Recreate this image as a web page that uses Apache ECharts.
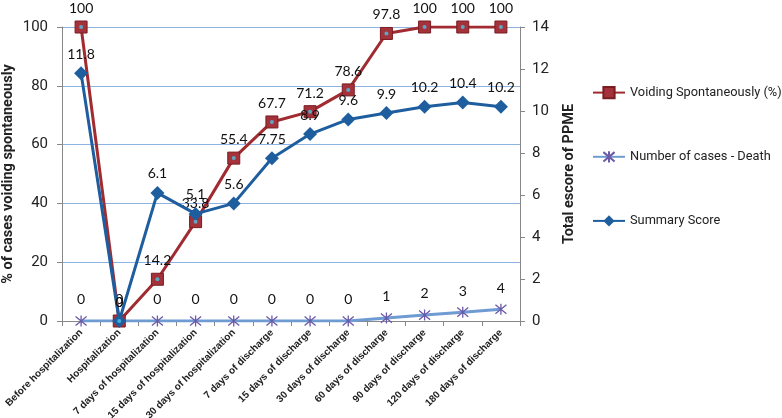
<!DOCTYPE html>
<html><head><meta charset="utf-8">
<script src="https://cdn.jsdelivr.net/npm/echarts@6/dist/echarts.min.js"></script>
<style>html,body{margin:0;padding:0;background:#fff}#c{width:782px;height:418px}</style>
</head><body><div id="c"></div>
<script>
const categories = ["Before hospitalization","Hospitalization","7 days of hospitalization","15 days of hospitalization","30 days of hospitalization","7 days of discharge","15 days of discharge","30 days of discharge","60 days of discharge","90 days of discharge","120 days of discharge","180 days of discharge"];
const voiding = [100, 0, 14.2, 33.8, 55.4, 67.7, 71.2, 78.6, 97.8, 100, 100, 100];
const deaths = [0, 0, 0, 0, 0, 0, 0, 0, 1, 2, 3, 4];
const summary = [11.8, 0, 6.1, 5.1, 5.6, 7.75, 8.9, 9.6, 9.9, 10.2, 10.4, 10.2];
const leftTicks = [0, 20, 40, 60, 80, 100];
const rightTicks = [0, 2, 4, 6, 8, 10, 12, 14];

const narrow = "'Liberation Sans Narrow', 'Roboto', sans-serif";
const lblFont = "Lato, 'Open Sans', sans-serif";
const chart = echarts.init(document.getElementById('c'), null, {renderer: 'canvas'});
const starPath = 'path://M0,0L10,10M10,0L0,10M5,-1L5,11';
chart.setOption({
  animation: false,
  backgroundColor: '#fff',
  grid: {left: 62, right: 262, top: 27, bottom: 97, containLabel: false, outerBoundsMode: 'none'},
  legend: {
    orient: 'vertical', left: 587, top: 81, itemGap: 51, itemWidth: 32, itemHeight: 14,
    textStyle: {fontFamily: narrow, fontSize: 12.8, color: '#222'},
    data: ['Voiding Spontaneously (%)', 'Number of cases - Death', 'Summary Score']
  },
  xAxis: {
    type: 'category', data: categories, boundaryGap: true,
    axisLine: {lineStyle: {color: '#888'}},
    axisTick: {show: true, alignWithLabel: false, length: 5, lineStyle: {color: '#888'}},
    axisLabel: {rotate: 45, interval: 0, fontSize: 10, fontWeight: 'bold', color: '#222', fontFamily: "'Liberation Sans', sans-serif", margin: 10}
  },
  yAxis: [{
    type: 'value', min: leftTicks[0], max: leftTicks[leftTicks.length-1], interval: 20,
    name: '% of cases voiding spontaneously', nameLocation: 'middle', nameGap: 46, nameMoveOverlap: false,
    nameTextStyle: {fontFamily: narrow, fontSize: 14.5, fontWeight: 'bold', color: '#222'},
    axisLine: {show: true, lineStyle: {color: '#888'}},
    axisTick: {show: true, length: 5, lineStyle: {color: '#888'}},
    axisLabel: {fontFamily: narrow, fontSize: 15, color: '#222', margin: 14},
    splitLine: {lineStyle: {color: '#8db3e2', width: 1}}
  }, {
    type: 'value', min: rightTicks[0], max: rightTicks[rightTicks.length-1], interval: 2,
    name: 'Total escore of PPME', nameLocation: 'middle', nameGap: 42, nameMoveOverlap: false,
    nameTextStyle: {fontFamily: narrow, fontSize: 14.5, fontWeight: 'bold', color: '#222'},
    axisLine: {show: true, lineStyle: {color: '#888'}},
    axisTick: {show: true, length: 5, lineStyle: {color: '#888'}},
    axisLabel: {fontFamily: narrow, fontSize: 15, color: '#222', margin: 12},
    splitLine: {show: false}
  }],
  series: [{
    name: 'Voiding Spontaneously (%)', type: 'line', yAxisIndex: 0, data: voiding,
    symbol: 'rect', symbolSize: 12, z: 3,
    lineStyle: {color: '#a02b31', width: 3},
    itemStyle: {color: '#a3323a', borderColor: '#7b1c22', borderWidth: 1},
    label: {show: true, position: 'top', distance: 5, fontFamily: lblFont, fontSize: 14, color: '#111'}
  }, {
    name: 'Number of cases - Death', type: 'line', yAxisIndex: 0, data: deaths,
    symbol: starPath, symbolSize: 11, z: 2,
    lineStyle: {color: '#6f9bd3', width: 3},
    itemStyle: {color: 'rgba(0,0,0,0)', borderColor: '#6a5aa8', borderWidth: 1.3},
    label: {show: true, position: 'top', distance: 8, fontFamily: lblFont, fontSize: 14, color: '#111'}
  }, {
    name: 'Summary Score', type: 'line', yAxisIndex: 1, data: summary,
    symbol: 'diamond', symbolSize: 14, z: 4,
    lineStyle: {color: '#1f5e9e', width: 3},
    itemStyle: {color: '#1f5e9e'},
    label: {show: true, position: 'top', distance: 5, fontFamily: lblFont, fontSize: 14, color: '#111'}
  }, {
    name: 'dot', type: 'scatter', yAxisIndex: 0, data: voiding,
    symbol: 'circle', symbolSize: 4, z: 5, silent: true,
    itemStyle: {color: '#4cc3e6'}
  }]
});
</script></body></html>
